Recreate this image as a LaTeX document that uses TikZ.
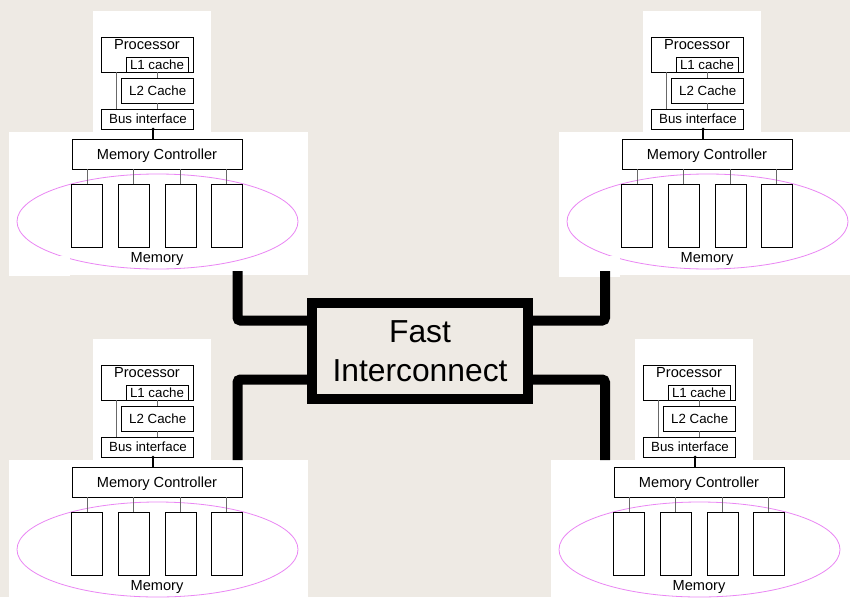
\documentclass[tikz,border=0pt]{standalone}
\usepackage{fontspec}
\setmainfont{Liberation Sans}
\usetikzlibrary{shapes.geometric}
\definecolor{paper}{RGB}{238,234,228}
\definecolor{memring}{RGB}{234,134,244}
\definecolor{wire}{RGB}{105,105,105}
\tikzset{
  unit/.style={draw=black, line width=0.9pt, fill=white, inner sep=0pt, outer sep=0pt},
  bank/.style={unit, minimum width=31pt, minimum height=63pt},
  lbl/.style={anchor=base, inner sep=0pt, outer sep=0pt, font=\fontsize{14.6}{17}\selectfont},
  slbl/.style={anchor=base, inner sep=0pt, outer sep=0pt, font=\fontsize{13.3}{16}\selectfont},
  link/.style={draw=wire, line width=0.8pt},
  busdrop/.style={draw=black, line width=1.4pt},
  trunk/.style={draw=black, line width=10pt, rounded corners=3pt, line cap=butt},
}
% One processor/memory node; #1 = name prefix, (#2,#3) = offset
\newcommand\smpnode[3]{%
  \begin{scope}[shift={(#2,#3)}]
    \fill[white] (93,11) rectangle (211,132);
    \fill[white] (9,132) rectangle (308,275);
    \node[draw=memring, line width=0.8pt, ellipse, minimum width=281pt,
          minimum height=95pt, inner sep=0pt] (#1-ring) at (157.5,221.5) {};
    % processor side
    \node[unit, minimum width=92pt, minimum height=35pt] (#1-proc) at (147,54.5) {};
    \node[unit, minimum width=62pt, minimum height=15pt] (#1-l1) at (157,64.5) {};
    \node[unit, minimum width=72pt, minimum height=25pt] (#1-l2) at (157,90.5) {};
    \node[unit, minimum width=92pt, minimum height=20pt] (#1-bus) at (147,119) {};
    \node[lbl]  (#1-proct) at (147,49.3) {Processor};
    \node[slbl] (#1-l1t)   at (157,69.3) {L1 cache};
    \node[slbl] (#1-l2t)   at (157.7,95.7) {L2 Cache};
    \node[slbl] (#1-bust)  at (148,123.3) {Bus interface};
    \draw[link] ([xshift=-31pt]#1-proc.south) -- ([xshift=-31pt]#1-bus.north);
    \draw[link] (#1-l1.south) -- (#1-l2.north);
    \draw[link] (#1-l2.south) -- ([xshift=10pt]#1-bus.north);
    % memory side
    \node[unit, minimum width=170pt, minimum height=30pt] (#1-mc) at (157,154) {};
    \node[lbl] (#1-mct) at (157,159) {Memory Controller};
    \draw[busdrop] ([xshift=6pt]#1-bus.south) -- ([xshift=-4pt]#1-mc.north);
    \fill ([xshift=6pt]#1-bus.south) circle (1.5pt);
    \foreach \k/\x in {1/87,2/133.5,3/180.5,4/226.5}{
      \node[bank] (#1-b\k) at (\x,215.5) {};
      \draw[link] (#1-b\k.north) -- (#1-b\k.north |- #1-mc.south);
    }
    \node[lbl] (#1-memt) at (157,262) {Memory};
  \end{scope}}

\begin{document}
\begin{tikzpicture}[x=1pt, y=-1pt]
  \useasboundingbox (0,0) rectangle (850,597);
  \clip (0,0) rectangle (850,597);
  \fill[paper] (0,0) rectangle (850,597);

  \smpnode{tl}{0}{0}
  \smpnode{tr}{550}{0}
  \smpnode{bl}{0}{328}
  \smpnode{br}{542}{328}

  % white strips over the lower-left arc of the two upper rings
  \fill[white] (9,256) rectangle (70,276);
  \fill[white] (559,256) rectangle (620,277);

  % the interconnect and its four trunks
  \coordinate (wtl) at (237.5,271);
  \coordinate (wtr) at (605,271);
  \coordinate (wbl) at (237.5,460);
  \coordinate (wbr) at (605,460);
  \node[draw=black, line width=10pt, minimum width=216pt, minimum height=96.5pt,
        inner sep=0pt, outer sep=0pt, align=center,
        font=\fontsize{31.8}{39}\selectfont] (fast) at (420,350.75) {Fast\\Interconnect};
  \draw[trunk] (wtl) |- ([yshift=30.25pt]fast.west);
  \draw[trunk] (wtr) |- ([yshift=30.25pt]fast.east);
  \draw[trunk] (wbl) |- ([yshift=-28.75pt]fast.west);
  \draw[trunk] (wbr) |- ([yshift=-28.75pt]fast.east);
\end{tikzpicture}
\end{document}
